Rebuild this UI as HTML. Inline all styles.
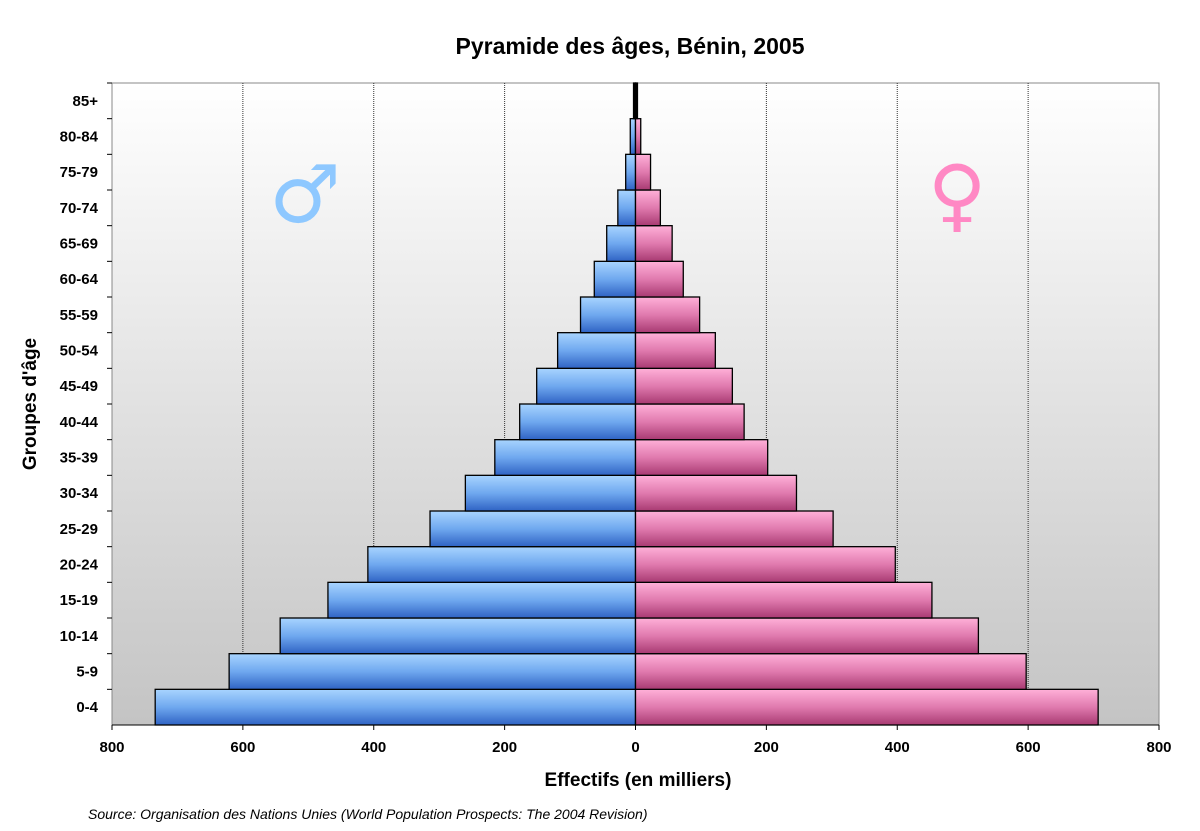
<!DOCTYPE html>
<html><head><meta charset="utf-8"><style>
body{margin:0;background:#fff;font-family:"Liberation Sans",Arial,sans-serif}
svg{display:block}
</style></head><body>
<svg id="chart" width="1200" height="831" viewBox="0 0 1200 831" xmlns="http://www.w3.org/2000/svg">
<defs>
<linearGradient id="bg" x1="0" y1="0" x2="0" y2="1"><stop offset="0" stop-color="#ffffff"/><stop offset="1" stop-color="#c4c4c4"/></linearGradient>
<linearGradient id="gm" x1="0" y1="0" x2="0" y2="1"><stop offset="0" stop-color="#a8d4ff"/><stop offset="0.5" stop-color="#6fa8ef"/><stop offset="1" stop-color="#2f63c4"/></linearGradient>
<linearGradient id="gf" x1="0" y1="0" x2="0" y2="1"><stop offset="0" stop-color="#ffb0d8"/><stop offset="0.5" stop-color="#e07aae"/><stop offset="1" stop-color="#a83a72"/></linearGradient>
</defs>
<text x="630" y="54" text-anchor="middle" font-size="23" font-weight="bold">Pyramide des âges, Bénin, 2005</text>
<rect x="112" y="83" width="1047" height="642" fill="url(#bg)" stroke="#888" stroke-width="1"/>
<g id="grid"></g>
<g id="bars"></g>
<g id="axes"></g>
<text x="305" y="222" text-anchor="middle" font-size="80" font-weight="bold" fill="#8ec8ff" font-family="DejaVu Sans, sans-serif">♂</text>
<text x="957" y="222" text-anchor="middle" font-size="80" font-weight="bold" fill="#ff88c4" font-family="DejaVu Sans, sans-serif">♀</text>
<text x="638" y="786" text-anchor="middle" font-size="19" font-weight="bold">Effectifs (en milliers)</text>
<text transform="translate(36,404) rotate(-90)" text-anchor="middle" font-size="19" font-weight="bold">Groupes d'âge</text>
<text x="88" y="819" font-size="14" font-style="italic">Source: Organisation des Nations Unies (World Population Prospects: The 2004 Revision)</text>
</svg>
<script>
const categories=["0-4","5-9","10-14","15-19","20-24","25-29","30-34","35-39","40-44","45-49","50-54","55-59","60-64","65-69","70-74","75-79","80-84","85+"];
const maleValues=[734,621,543,470,409,314,260,215,177,151,119,84,63,44,27,15,8,3];
const femaleValues=[707,597,524,453,397,302,246,202,166,148,122,98,73,56,38,23,8,3];
const xTicks=[-800,-600,-400,-200,0,200,400,600,800];
const NS="http://www.w3.org/2000/svg";
const X0=112,X1=1159,Y0=83,Y1=725;
const xs=v=>X0+(v+800)/1600*(X1-X0);
const rowH=(Y1-Y0)/categories.length;
const yTop=i=>Y1-(i+1)*rowH;
function mk(tag,attrs,parent){const e=document.createElementNS(NS,tag);for(const k in attrs)e.setAttribute(k,attrs[k]);parent.appendChild(e);return e;}
const grid=document.getElementById('grid'),bars=document.getElementById('bars'),axes=document.getElementById('axes');
xTicks.forEach(t=>{
  if(t!==0&&Math.abs(t)!==800){const l=mk('line',{x1:xs(t),x2:xs(t),y1:Y0,y2:Y1,stroke:'#333','stroke-dasharray':'1,1','stroke-width':1},grid);
  
  }
  const tk=mk('line',{x1:xs(t),x2:xs(t),y1:Y1,y2:Y1+5,stroke:'#000'},axes);
  
  
  const tx=mk('text',{x:xs(t),y:Y1+27,'text-anchor':'middle','font-size':15,'font-weight':'bold'},axes);
  tx.textContent=Math.abs(t);
  
  
});
categories.forEach((c,i)=>{
  const y=yTop(i);
  const m=mk('rect',{x:xs(-maleValues[i]),y:y,width:xs(0)-xs(-maleValues[i]),height:rowH,fill:'url(#gm)',stroke:'#000','stroke-width':1.3},bars);
  
  
  const f=mk('rect',{x:xs(0),y:y,width:xs(femaleValues[i])-xs(0),height:rowH,fill:'url(#gf)',stroke:'#000','stroke-width':1.3},bars);
  
  
  const lb=mk('text',{x:98,y:y+rowH/2+5,'text-anchor':'end','font-size':15,'font-weight':'bold'},axes);
  lb.textContent=c;
  
  
  const tk=mk('line',{x1:X0-5,x2:X0,y1:y,y2:y,stroke:'#000'},axes);
  
  
});
const ax=mk('line',{x1:xs(0),x2:xs(0),y1:Y0,y2:Y1,stroke:'#000','stroke-width':1},axes);


const ax2=mk('line',{x1:xs(0),x2:xs(0),y1:Y0,y2:yTop(categories.length-2),stroke:'#000','stroke-width':4},axes);


const xa=mk('line',{x1:X0,x2:X1,y1:Y1,y2:Y1,stroke:'#000'},axes);


</script>
</body></html>
